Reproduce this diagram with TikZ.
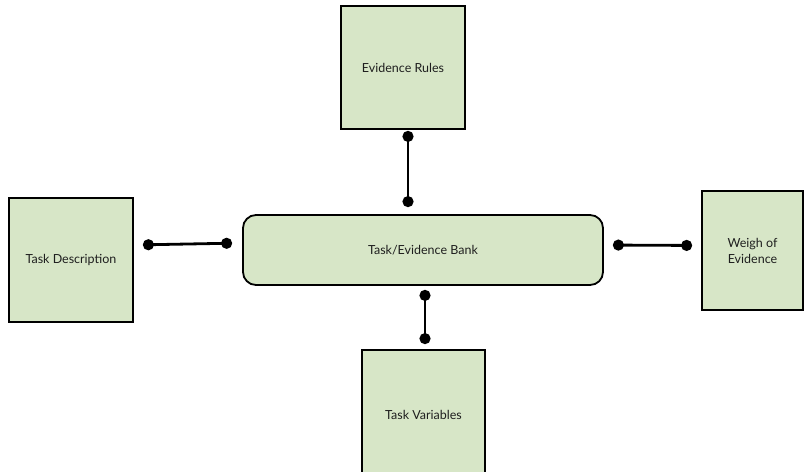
\documentclass[tikz,border=0pt]{standalone}
\usepackage{fontspec}
\setmainfont{Lato}
\usetikzlibrary{arrows.meta,calc}
\definecolor{boxgreen}{RGB}{215,230,199}
\definecolor{labelgray}{RGB}{30,30,30}

\tikzset{
  block/.style={draw=black,fill=boxgreen,line width=1.8pt,inner sep=2pt,
    text=labelgray,font=\fontsize{12.5}{16}\selectfont,align=center},
  link/.style={line width=2.8pt,{Circle[length=11pt]}-{Circle[length=11pt]}}
}

\begin{document}
\begin{tikzpicture}[x=1pt,y=-1pt]
  \clip (0,0) rectangle (805,471);

  \node[block,rounded corners=13pt,minimum width=360pt,minimum height=70pt]
    (bank) at (423,250) {Task/Evidence Bank};
  \node[block,minimum width=124pt,minimum height=123pt] (rules) at (403,67.5) {Evidence Rules};
  \node[block,minimum width=124pt,minimum height=124pt] (desc) at (71,260) {Task Description};
  \node[block,minimum width=101pt,minimum height=119pt] (weigh) at (752.5,250.5) {Weigh of\\Evidence};
  \node[block,minimum width=123pt,minimum height=130pt] (vars) at (423.5,415) {Task Variables};

  \draw[link,shorten <=1pt,shorten >=7pt] ([xshift=5pt]rules.south) -- ([xshift=-15pt]bank.north);
  \draw[link,shorten <=9pt,shorten >=10pt] ([yshift=15pt]desc.east) -- ([yshift=7pt]bank.west);
  \draw[link,shorten <=9pt,shorten >=9pt] ([yshift=5pt]bank.east) -- ([yshift=5pt]weigh.west);
  \draw[link,shorten <=4pt,shorten >=5pt] ([xshift=2pt]bank.south) -- ([xshift=1.5pt]vars.north);
\end{tikzpicture}
\end{document}
